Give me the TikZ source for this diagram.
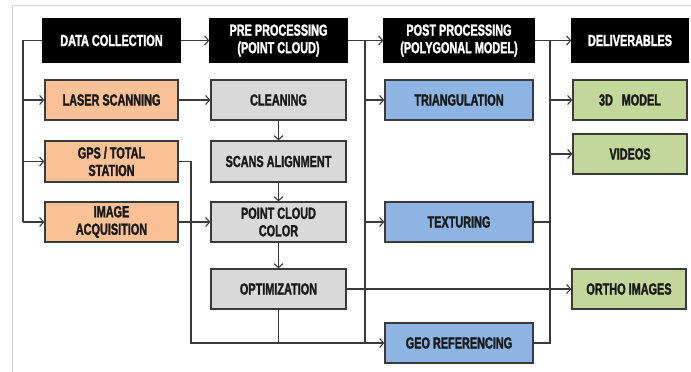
\documentclass[tikz,border=0pt]{standalone}
\usepackage{fontspec}
\setmainfont{Liberation Sans}[FakeStretch=0.68, BoldFeatures={FakeBold=1.6}]
\usetikzlibrary{arrows.meta}

\definecolor{framegray}{HTML}{D4D4D4}
\definecolor{edgegray}{HTML}{3A3A3A}
\definecolor{inkdark}{HTML}{1A1A1A}
\definecolor{fillorange}{HTML}{FAC196}
\definecolor{fillgray}{HTML}{D9D9D9}
\definecolor{fillblue}{HTML}{8DB4E2}
\definecolor{fillgreen}{HTML}{C4D79B}

\begin{document}
\begin{tikzpicture}[x=1pt,y=-1pt,
  box/.style={draw=edgegray, line width=1.3pt, inner sep=0pt, align=center,
    font=\fontsize{16}{17.5}\selectfont\bfseries, text=inkdark},
  header/.style={box, draw=black, fill=black, text=white, minimum height=43pt},
  srcbox/.style={box, fill=fillorange, minimum width=133pt, minimum height=40pt},
  prebox/.style={box, fill=fillgray, minimum width=135pt, minimum height=40pt},
  postbox/.style={box, fill=fillblue, minimum width=148pt, minimum height=40pt},
  outbox/.style={box, fill=fillgreen, minimum width=114pt, minimum height=40pt},
  link/.style={draw=edgegray, line width=1.2pt},
  arr/.style={link, -{Straight Barb[length=4pt,width=9pt,line width=1.1pt]}}
]
\useasboundingbox (0,0) rectangle (691,372);

% outer frame
\draw[framegray, line width=1pt] (12,372) -- (12,5) -- (691,5);

% column headers
\node[header, minimum width=137pt] (dc)   at (111.5,40.5) {DATA COLLECTION};
\node[header, minimum width=137pt] (pre)  at (278.5,40.5) {PRE PROCESSING\\(POINT CLOUD)};
\node[header, minimum width=150pt] (post) at (459,40.5)   {POST PROCESSING\\(POLYGONAL MODEL)};
\node[header, minimum width=116pt] (del)  at (630,40.5)   {DELIVERABLES};

% data collection
\node[srcbox] (laser) at (111.5,100)   {LASER SCANNING};
\node[srcbox, minimum height=41pt] (gps) at (111.5,161.5) {GPS / TOTAL\\STATION};
\node[srcbox] (img)   at (111.5,222)   {IMAGE\\ACQUISITION};

% point cloud processing
\node[prebox] (clean) at (278.5,100)   {CLEANING};
\node[prebox, minimum height=41pt] (scans) at (278.5,161.5) {SCANS ALIGNMENT};
\node[prebox] (pcc)   at (278.5,222)   {POINT CLOUD\\COLOR};
\node[prebox] (opt)   at (278.5,289)   {OPTIMIZATION};

% polygonal model processing
\node[postbox] (tri) at (459,100) {TRIANGULATION};
\node[postbox] (tex) at (459,222) {TEXTURING};
\node[postbox] (geo) at (459,343) {GEO REFERENCING};

% deliverables
\node[outbox] (model)  at (630,100) {3D\hspace{0.55em}MODEL};
\node[outbox] (videos) at (630,154) {VIDEOS};
\node[outbox] (ortho)  at (629,289) {ORTHO IMAGES};

% bus coordinates
\coordinate (busA) at (23,222);
\coordinate (gpsturn) at (191,343);
\coordinate (busB) at (365,343);
\coordinate (busC) at (550,343);

% data collection fan-out
\draw[link] (dc.west) -| (busA);
\draw[arr] (laser.west -| busA) -- (laser.west);
\draw[arr] (gps.west -| busA) -- (gps.west);
\draw[arr] (busA) -- (img.west);

% header chain
\draw[arr] (dc.east) -- (pre.west);
\draw[arr] (pre.east) -- (post.west);
\draw[arr] (post.east) -- (del.west);

% point cloud flow
\draw[arr] (laser.east) -- (clean.west);
\draw[arr] (img.east) -- (pcc.west);
\draw[arr] (clean.south) -- (scans.north);
\draw[arr] (scans.south) -- (pcc.north);
\draw[arr] (pcc.south) -- (opt.north);
\draw[arr] (gps.east) -| (gpsturn) -- (geo.west);
\draw[link] (opt.south) -- (opt.south |- geo.west);
\draw[arr] (opt.east) -- (ortho.west);

% polygonal model bus
\draw[link] (pre.east -| busB) -- (busB);
\draw[arr] (tri.west -| busB) -- (tri.west);
\draw[arr] (tex.west -| busB) -- (tex.west);

% deliverables bus
\draw[link] (post.east -| busC) -- (busC) -- (geo.east);
\draw[link] (tex.east) -- (tex.east -| busC);
\draw[arr] (model.west -| busC) -- (model.west);
\draw[arr] (videos.west -| busC) -- (videos.west);
\end{tikzpicture}
\end{document}
